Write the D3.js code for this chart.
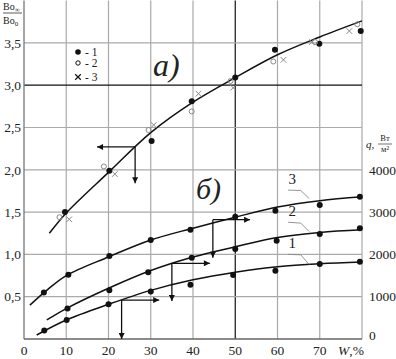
<!DOCTYPE html>
<html>
<head>
<meta charset="utf-8">
<script src="https://cdn.jsdelivr.net/npm/d3@7"></script>
<style>
  body { margin: 0; background: #fff; }
</style>
</head>
<body>
<script>
// W, % on x; Bo_inf/Bo_0 on the left axis, q (W/m2) on the right (q = 2000 * left value)
const xTicks = [0, 10, 20, 30, 40, 50, 60, 70];
const xGrid = [10, 20, 30, 40, 50, 60, 70, 80];
const yTicks = [0.5, 1.0, 1.5, 2.0, 2.5, 3.0, 3.5];
const qTicks = [0, 1000, 2000, 3000, 4000];

// a) fitted curve and measured points
const curveA = [[6, 1.25], [10, 1.49], [20, 1.97], [30, 2.44], [40, 2.80], [50, 3.09], [60, 3.36], [70, 3.57], [80, 3.76]];
const a1 = [[9.7, 1.50], [20.2, 1.99], [30.2, 2.34], [39.7, 2.81], [50, 3.09], [59.4, 3.42], [69.9, 3.49], [79.7, 3.64]];
const a2 = [[8.4, 1.44], [18.9, 2.04], [29.5, 2.47], [39.7, 2.69], [48.9, 3.05], [59, 3.28], [68.9, 3.51], [78.9, 3.72]];
const a3 = [[10.7, 1.415], [21.5, 1.95], [30.7, 2.53], [41.3, 2.90], [49.5, 2.97], [61.4, 3.30], [68.1, 3.51], [77, 3.64]];

// б) curves 1..3 and their points (left-axis units)
const curve1 = [[3, 0.047], [10, 0.225], [20, 0.41], [30, 0.575], [40, 0.70], [50, 0.79], [60, 0.855], [70, 0.89], [80, 0.91]];
const curve2 = [[5.4, 0.225], [10, 0.36], [20, 0.60], [30, 0.81], [40, 0.97], [50, 1.09], [60, 1.20], [70, 1.26], [80, 1.29]];
const curve3 = [[1.4, 0.40], [5, 0.56], [10, 0.75], [20, 0.97], [30, 1.17], [40, 1.31], [50, 1.44], [60, 1.56], [70, 1.635], [80, 1.68]];
const b1 = [[4.8, 0.10], [10.1, 0.225], [20, 0.41], [30, 0.56], [39.4, 0.64], [49.5, 0.757], [59.5, 0.807], [70, 0.886], [79.5, 0.914]];
const b2 = [[10.3, 0.36], [20.2, 0.575], [29.4, 0.79], [39.7, 0.961], [50, 1.064], [59.8, 1.16], [70, 1.24], [79.5, 1.31]];
const b3 = [[4.7, 0.55], [10.5, 0.76], [20.2, 0.98], [30, 1.17], [39.4, 1.29], [50, 1.446], [59.5, 1.517], [70, 1.584], [79.5, 1.68]];

// reading arrows: corner point, horizontal end W, vertical end value
const arrows = [
  { at: [26.3, 2.27], toW: 17.3, toV: 1.84 },
  { at: [44.7, 1.41], toW: 53.5, toV: 0.96 },
  { at: [35, 0.895], toW: 44, toV: 0.45 },
  { at: [23.1, 0.46], toW: 32, toV: 0.0 }
];

const curveLabels = [
  { name: "3", at: [63.5, 1.83], lead: [[62.5, 1.76], [65.5, 1.755], [67.5, 1.66]] },
  { name: "2", at: [63.5, 1.45], lead: [[62.5, 1.38], [65.5, 1.37], [67.5, 1.27]] },
  { name: "1", at: [63.5, 1.08], lead: [[62.5, 1.0], [65.5, 0.995], [67.5, 0.88]] }
];

const serif = "'Liberation Serif', 'DejaVu Serif', 'Times New Roman', serif";
const width = 396, height = 359;
const x = d3.scaleLinear().domain([0, 80]).range([24, 362]);
const y = d3.scaleLinear().domain([0, 4]).range([339, 0.6]);
const yq = d3.scaleLinear().domain([0, 8000]).range([339, 0.6]);

const svg = d3.select("body").append("svg")
  .attr("width", width)
  .attr("height", height)
  .attr("font-family", serif)
  .attr("fill", "#222");

svg.append("defs").append("marker")
  .attr("id", "head")
  .attr("viewBox", "0 0 10 10")
  .attr("refX", 10).attr("refY", 5)
  .attr("markerWidth", 9).attr("markerHeight", 6)
  .attr("markerUnits", "userSpaceOnUse")
  .attr("orient", "auto")
  .append("path")
  .attr("d", "M0,0L10,5L0,10z")
  .attr("fill", "#111");

// grid
svg.selectAll(".vgrid")
  .data(xGrid)
  .join("line")
  .attr("x1", d => x(d)).attr("x2", d => x(d))
  .attr("y1", y(4)).attr("y2", y(0))
  .attr("stroke", d => d == 50 ? "#111" : "#aaa")
  .attr("stroke-width", 1.2);

svg.selectAll(".hgrid")
  .data(yTicks)
  .join("line")
  .attr("x1", x(0)).attr("x2", x(80))
  .attr("y1", d => y(d)).attr("y2", d => y(d))
  .attr("stroke", d => d == 3 ? "#111" : "#aaa")
  .attr("stroke-width", 1.2);

// axes lines
svg.append("line").attr("x1", x(0)).attr("x2", x(0)).attr("y1", y(4)).attr("y2", y(0))
  .attr("stroke", "#777").attr("stroke-width", 1.3);
svg.append("line").attr("x1", x(0)).attr("x2", x(80)).attr("y1", y(0)).attr("y2", y(0))
  .attr("stroke", "#666").attr("stroke-width", 1.3);

// tick labels
svg.selectAll(".xl")
  .data(xTicks)
  .join("text")
  .attr("x", d => x(d)).attr("y", 355)
  .attr("text-anchor", "middle")
  .attr("font-size", 13.5)
  .text(d => d);

const wl = svg.append("text").attr("x", 338).attr("y", 355).attr("font-size", 13.5);
wl.append("tspan").attr("font-style", "italic").text("W");
wl.append("tspan").text(",%");

svg.selectAll(".yl")
  .data(yTicks)
  .join("text")
  .attr("x", 21).attr("y", d => y(d))
  .attr("dy", "0.35em")
  .attr("text-anchor", "end")
  .attr("font-size", 13.5)
  .text(d => d3.format(".1f")(d).replace(".", ","));

svg.selectAll(".ql")
  .data(qTicks)
  .join("text")
  .attr("x", 369).attr("y", d => Math.min(yq(d), 335))
  .attr("dy", "0.35em")
  .attr("font-size", 13.5)
  .text(d => d);

// axis titles
svg.append("text").attr("x", 3).attr("y", 10).attr("font-size", 10)
  .text("Bo").append("tspan").attr("dy", 2).attr("font-size", 7).text("∞");
svg.append("line").attr("x1", 3).attr("x2", 22).attr("y1", 13).attr("y2", 13)
  .attr("stroke", "#333").attr("stroke-width", 0.8);
svg.append("text").attr("x", 3).attr("y", 24).attr("font-size", 10)
  .text("Bo").append("tspan").attr("dy", 2).attr("font-size", 7).text("0");

svg.append("text").attr("x", 366).attr("y", 148).attr("font-size", 11)
  .attr("font-style", "italic").text("q,");
svg.append("text").attr("x", 385).attr("y", 141).attr("text-anchor", "middle")
  .attr("font-size", 8.5).text("Вт");
svg.append("line").attr("x1", 378).attr("x2", 392).attr("y1", 144).attr("y2", 144)
  .attr("stroke", "#333").attr("stroke-width", 0.7);
svg.append("text").attr("x", 385).attr("y", 152).attr("text-anchor", "middle")
  .attr("font-size", 8.5).text("м²");

// curves
const line = d3.line()
  .x(d => x(d[0]))
  .y(d => y(d[1]))
  .curve(d3.curveCatmullRom.alpha(0.5));

svg.selectAll(".fit")
  .data([curveA, curve1, curve2, curve3])
  .join("path")
  .attr("d", line)
  .attr("fill", "none")
  .attr("stroke", "#111")
  .attr("stroke-width", 1.5);

// arrows
arrows.forEach(a => {
  const cx = x(a.at[0]), cy = y(a.at[1]);
  svg.append("line").attr("x1", cx).attr("y1", cy).attr("x2", x(a.toW)).attr("y2", cy)
    .attr("stroke", "#111").attr("stroke-width", 1.3).attr("marker-end", "url(#head)");
  svg.append("line").attr("x1", cx).attr("y1", cy).attr("x2", cx).attr("y2", y(a.toV))
    .attr("stroke", "#111").attr("stroke-width", 1.3).attr("marker-end", "url(#head)");
});

// curve labels with leaders
const lead = d3.line().x(d => x(d[0])).y(d => y(d[1]));
curveLabels.forEach(c => {
  svg.append("path").attr("d", lead(c.lead)).attr("fill", "none")
    .attr("stroke", "#888").attr("stroke-width", 0.9);
  svg.append("text").attr("x", x(c.at[0])).attr("y", y(c.at[1]))
    .attr("text-anchor", "middle").attr("font-size", 15).text(c.name);
});

// markers
const filled = pts => svg.append("g").selectAll("circle")
  .data(pts).join("circle")
  .attr("cx", d => x(d[0])).attr("cy", d => y(d[1]))
  .attr("r", 3).attr("fill", "#111");

filled(a1);
filled(b1);
filled(b2);
filled(b3);

svg.append("g").selectAll("circle")
  .data(a2).join("circle")
  .attr("cx", d => x(d[0])).attr("cy", d => y(d[1]))
  .attr("r", 2.5).attr("fill", "none").attr("stroke", "#888").attr("stroke-width", 1);

const cross = d3.symbol().type(d3.symbolX).size(22);
svg.append("g").selectAll("path")
  .data(a3).join("path")
  .attr("transform", d => `translate(${x(d[0])},${y(d[1])})`)
  .attr("d", cross)
  .attr("fill", "none").attr("stroke", "#888").attr("stroke-width", 1);

// legend
svg.append("circle").attr("cx", 78).attr("cy", 52).attr("r", 2.8).attr("fill", "#111");
svg.append("circle").attr("cx", 78).attr("cy", 63).attr("r", 2.2).attr("fill", "none").attr("stroke", "#111");
svg.append("path").attr("transform", "translate(78,77)").attr("d", cross)
  .attr("fill", "none").attr("stroke", "#111").attr("stroke-width", 1.2);
[["- 1", 56], ["- 2", 67], ["- 3", 81]].forEach(l => {
  svg.append("text").attr("x", 85).attr("y", l[1]).attr("font-size", 11.5).text(l[0]);
});

// panel letters
svg.append("text").attr("x", 153).attr("y", 76).attr("font-size", 32)
  .attr("font-style", "italic").text("а)");
svg.append("text").attr("x", 196).attr("y", 199).attr("font-size", 30)
  .attr("font-style", "italic").text("б)");
</script>
</body>
</html>
